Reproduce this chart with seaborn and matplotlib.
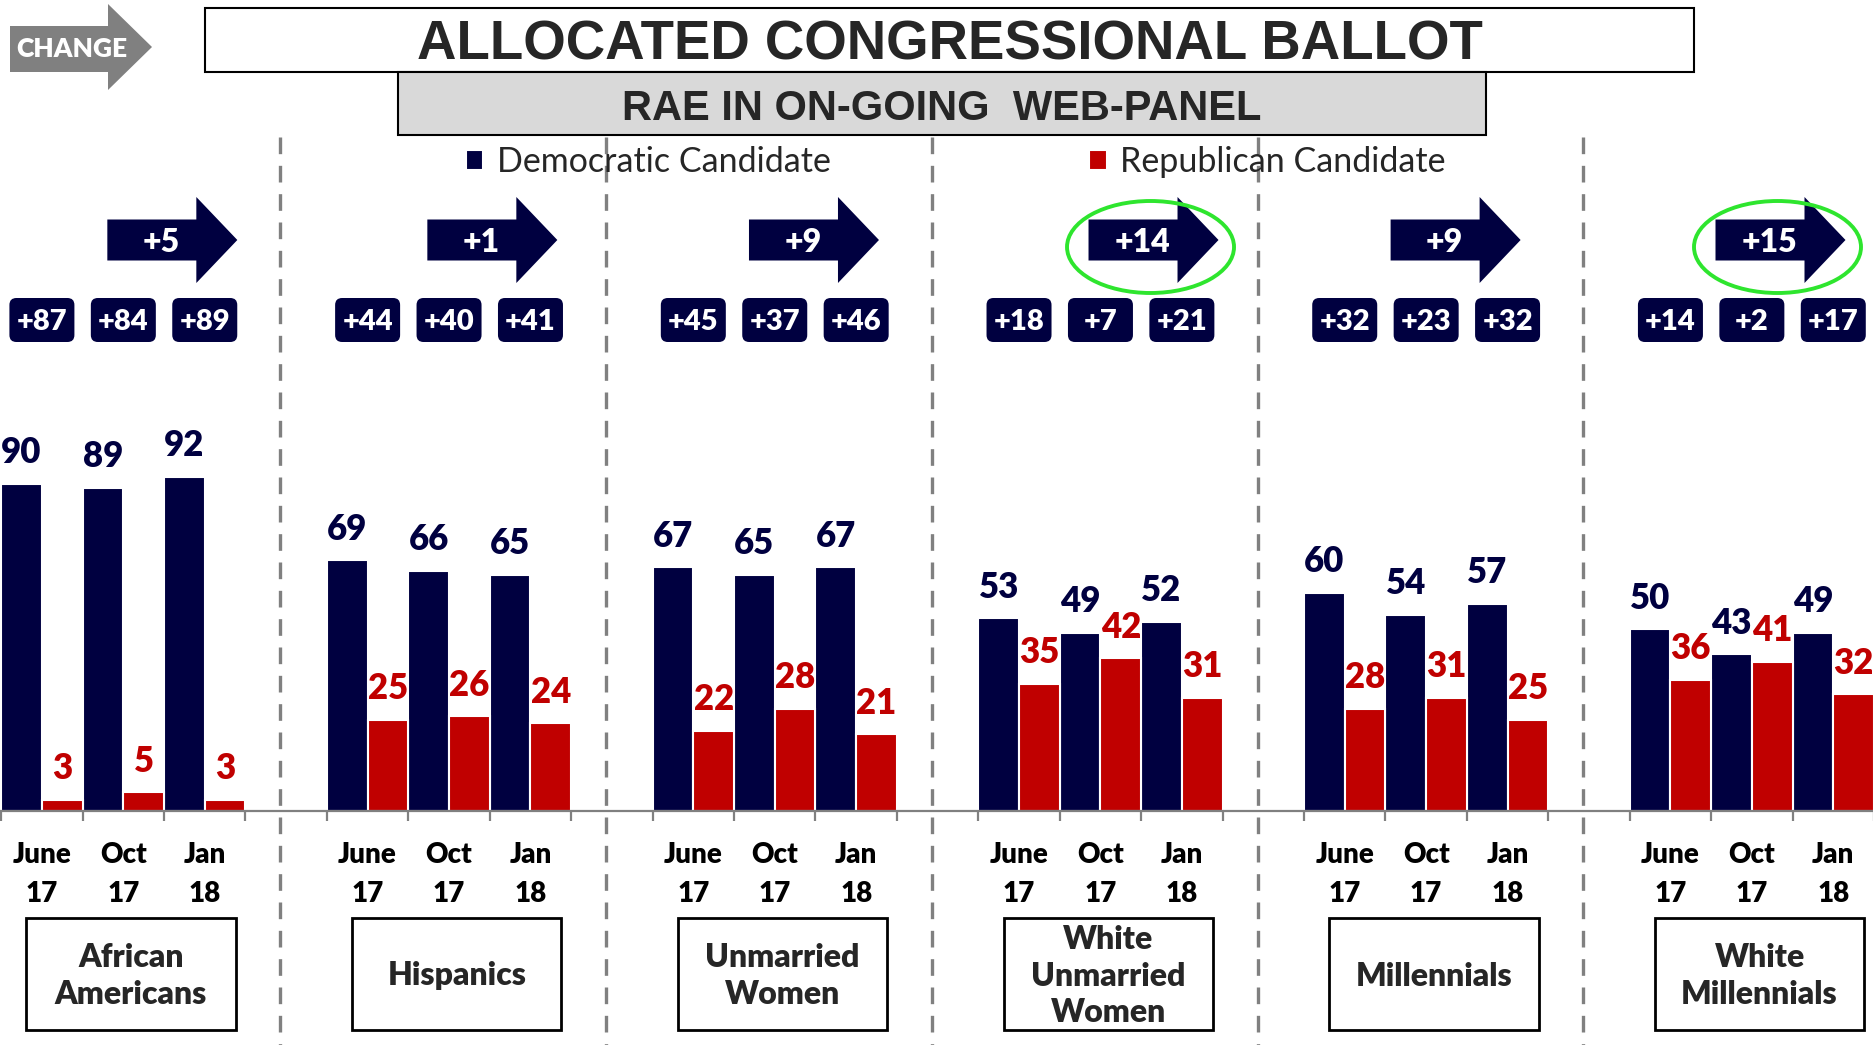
import matplotlib
matplotlib.use('Agg')
import matplotlib.pyplot as plt
import seaborn as sns
import pandas as pd
from matplotlib.patches import Polygon, Rectangle, FancyBboxPatch, Ellipse

# chart values
groups = ['African\nAmericans', 'Hispanics', 'Unmarried\nWomen',
          'White\nUnmarried\nWomen', 'Millennials', 'White\nMillennials']
periods = ['June\n17', 'Oct\n17', 'Jan\n18']
dem = [[90, 89, 92], [69, 66, 65], [67, 65, 67], [53, 49, 52], [60, 54, 57], [50, 43, 49]]
rep = [[3, 5, 3], [25, 26, 24], [22, 28, 21], [35, 42, 31], [28, 31, 25], [36, 41, 32]]
margins = [['+87', '+84', '+89'], ['+44', '+40', '+41'], ['+45', '+37', '+46'],
           ['+18', '+7', '+21'], ['+32', '+23', '+32'], ['+14', '+2', '+17']]
changes = ['+5', '+1', '+9', '+14', '+9', '+15']
circled = [3, 5]

NAVY = '#000040'
RED = '#C00000'
GREY = '#808080'
W, H = 1874, 1045
SLOT = 81.6  # px per category slot
BOLD = 'heavy'

# layout only: arrow tip position inside each group, in slots from group's left edge
arrow_tip = [2.90, 2.83, 2.78, 2.95, 2.66, 2.65]

sns.set_theme(style='white')
plt.rcParams['font.family'] = ['Lato', 'DejaVu Sans']

# long table, with empty slots between the groups
rows, order = [], []
for g in range(len(groups)):
    for p in range(len(periods)):
        key = f'{g}-{p}'
        order.append(key)
        rows.append((key, 'Democratic Candidate', dem[g][p]))
        rows.append((key, 'Republican Candidate', rep[g][p]))
    if g < len(groups) - 1:
        order.append(f'gap{g}')
df = pd.DataFrame(rows, columns=['slot', 'party', 'pct'])

fig = plt.figure(figsize=(W / 100, H / 100), dpi=100)

# pixel overlay for the slide furniture
pax = fig.add_axes([0, 0, 1, 1], zorder=1)
pax.set_xlim(0, W)
pax.set_ylim(H, 0)
pax.axis('off')

base_y = 810.5
ax = fig.add_axes([0, (H - base_y) / H, 1, 362.8 / H], zorder=2)
ax.patch.set_alpha(0)

sns.barplot(data=df, x='slot', y='pct', hue='party', order=order,
            hue_order=['Democratic Candidate', 'Republican Candidate'],
            palette=[NAVY, RED], saturation=1, width=1.0, dodge=True,
            edgecolor='white', linewidth=1.5, errorbar=None, ax=ax)

ax.set_xlim(-0.5 - 1.2 / SLOT, -0.5 + (W - 1.2) / SLOT)
ax.set_ylim(0, 100)
ax.set_xlabel('')
ax.set_ylabel('')
ax.set_yticks([])
for s in ['top', 'left', 'right']:
    ax.spines[s].set_visible(False)
ax.spines['bottom'].set_color(GREY)
ax.spines['bottom'].set_linewidth(1.6)

centers = [g * 4 + p for g in range(len(groups)) for p in range(len(periods))]
bounds = [g * 4 + b - 0.5 for g in range(len(groups)) for b in range(4)]
ax.set_xticks(centers)
ax.set_xticklabels(periods * len(groups), fontsize=20, fontweight=BOLD,
                   color='black', linespacing=1.62)
ax.set_xticks(bounds, minor=True)
ax.tick_params(axis='x', which='major', length=0, pad=23, bottom=True)
ax.tick_params(axis='x', which='minor', length=7, width=1.6, color=GREY,
               direction='out', bottom=True)

for cont, col in zip(ax.containers, [NAVY, RED]):
    ax.bar_label(cont, fmt='{:.0f}', padding=10.5, fontsize=25,
                 fontweight=BOLD, color=col)

sns.move_legend(ax, 'center', bbox_to_anchor=(956 / W, 1 - 162 / H),
                bbox_transform=fig.transFigure, ncol=2, title=None,
                frameon=False, fontsize=24.5, handlelength=0.5,
                handleheight=0.5, handletextpad=0.4, columnspacing=7.6)


def px(x):
    return ax.transData.transform((x, 0))[0]


# header
pax.add_patch(Polygon([(10, 26), (108, 26), (108, 4), (152, 47), (108, 90),
                       (108, 72), (10, 72)], closed=True, fc=GREY, ec='none'))
pax.text(72, 49, 'CHANGE', color='white', fontsize=19, fontweight=BOLD,
         ha='center', va='center')
pax.add_patch(Rectangle((205, 8), 1489, 64, fc='white', ec='black', lw=1.5))
pax.text(950, 60, 'ALLOCATED CONGRESSIONAL BALLOT', fontsize=39.3,
         fontweight='bold', family='Liberation Sans', ha='center', va='baseline')
pax.add_patch(Rectangle((398, 72), 1088, 63, fc='#D9D9D9', ec='black', lw=1.5))
pax.text(942, 120, 'RAE IN ON-GOING  WEB-PANEL', fontsize=30,
         fontweight='bold', family='Liberation Sans', ha='center', va='baseline')

# dashed group separators
for g in range(len(groups) - 1):
    x = px(g * 4 + 2.93)
    pax.plot([x, x], [137, H], color=GREY, lw=2.4, dashes=(5, 3.5))

for g in range(len(groups)):
    left = g * 4 - 0.5
    # change arrow
    tip = px(left + arrow_tip[g])
    yc = 240
    hs = tip - 41
    pax.add_patch(Polygon([(tip - 130, yc - 20.5), (hs, yc - 20.5), (hs, yc - 43),
                           (tip, yc), (hs, yc + 43), (hs, yc + 20.5),
                           (tip - 130, yc + 20.5)], closed=True, fc=NAVY, ec='none'))
    pax.text(tip - 76, yc + 3, changes[g], color='white', fontsize=23,
             fontweight=BOLD, ha='center', va='center')
    if g in circled:
        pax.add_patch(Ellipse((tip - 68, 247), 167, 92, fill=False,
                              ec='#2EE52E', lw=2.8, zorder=5))
    # margin badges
    for p in range(len(periods)):
        cx = px(g * 4 + p)
        r = 7
        pax.add_patch(FancyBboxPatch((cx - 32.5 + r, 298 + r), 65 - 2 * r, 44 - 2 * r,
                                     boxstyle=f'round,pad={r}', fc=NAVY, ec='none'))
        pax.text(cx, 322, margins[g][p], color='white', fontsize=21,
                 fontweight=BOLD, ha='center', va='center')
    # group name box
    x0, x1 = px(left + 0.31), px(left + 2.88)
    pax.add_patch(Rectangle((x0, 918), x1 - x0, 112, fc='white', ec='black', lw=2))
    pax.text((x0 + x1) / 2, 976, groups[g], fontsize=23, fontweight=BOLD,
             ha='center', va='center', linespacing=1.3)

fig.savefig('out.png', dpi=100)
